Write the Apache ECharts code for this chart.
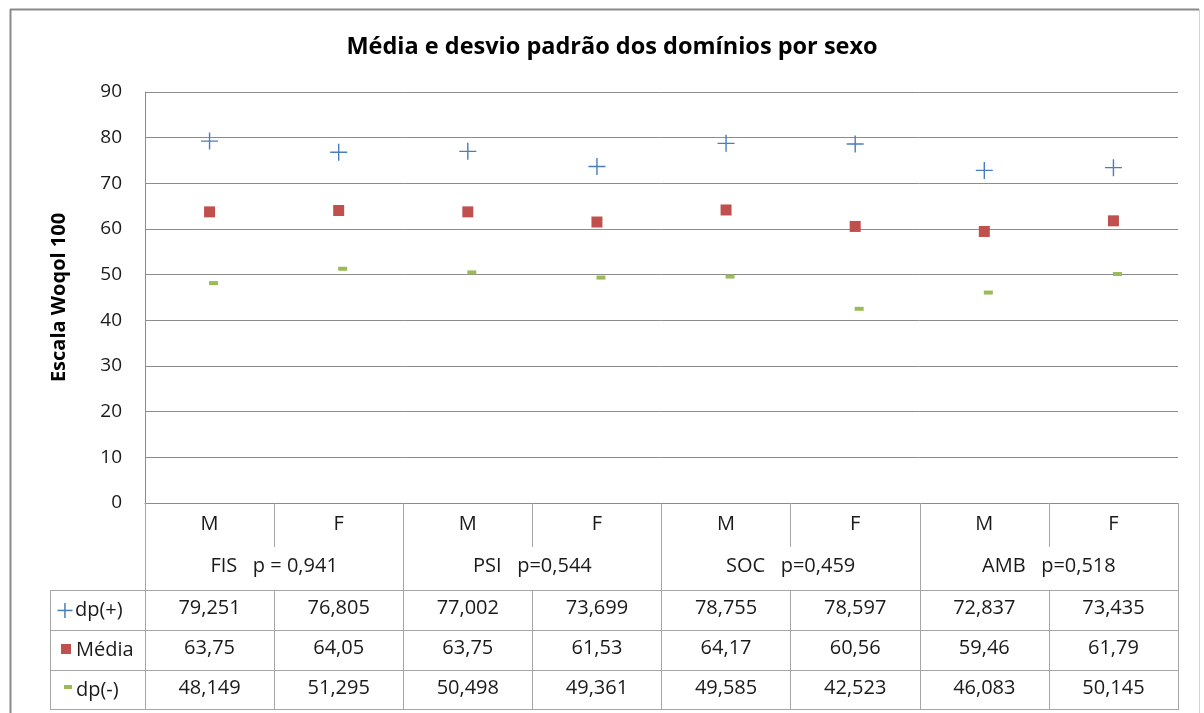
<!DOCTYPE html>
<html>
<head>
<meta charset="utf-8">
<script src="https://cdn.jsdelivr.net/npm/echarts@6/dist/echarts.min.js"></script>
<style>
  html, body { margin: 0; padding: 0; background: #ffffff; }
  #chart { width: 1204px; height: 713px; }
</style>
</head>
<body>
<div id="chart"></div>
<script>
// Sex within each domain
const categories = ['M', 'F', 'M', 'F', 'M', 'F', 'M', 'F'];
// Domain names with the p-value of the comparison
const groups = ['FIS   p = 0,941', 'PSI   p=0,544', 'SOC   p=0,459', 'AMB   p=0,518'];
// Mean + standard deviation
const dpPlus = [79.251, 76.805, 77.002, 73.699, 78.755, 78.597, 72.837, 73.435];
// Mean
const media = [63.75, 64.05, 63.75, 61.53, 64.17, 60.56, 59.46, 61.79];
// Mean - standard deviation
const dpMinus = [48.149, 51.295, 50.498, 49.361, 49.585, 42.523, 46.083, 50.145];
// Value axis range
const yMin = 0, yMax = 90, yStep = 10;

const FONT = '"Open Sans", Lato, sans-serif';
const GRID_LINE = '#8c8c8c';
const TABLE_LINE = '#a6a6a6';
const TEXT = '#1a1a1a';
const BLUE = '#4a7ebb', RED = '#c0504d', GREEN = '#9bbb59';
const PLUS = 'path://M8.25,0H9.75V8.25H18V9.75H9.75V18H8.25V9.75H0V8.25H8.25Z';

const fmt = v => String(v).replace('.', ',');

// One row of the data table under the plot, drawn as an offset category axis
function rowAxis(values, offset) {
  return {
    type: 'category', data: values.map(fmt), position: 'bottom', offset: offset,
    axisLine: { show: true, onZero: false, lineStyle: { color: TABLE_LINE, width: 1 } },
    axisTick: { show: true, length: 40, interval: 0, lineStyle: { color: TABLE_LINE } },
    axisLabel: { interval: 0, margin: 8, fontSize: 20, color: TEXT, fontFamily: FONT },
    splitLine: { show: false }
  };
}

const chart = echarts.init(document.getElementById('chart'), null, { renderer: 'canvas' });

const legendRows = [
  { y: 610, label: 'dp(+)' },
  { y: 650, label: 'Média' },
  { y: 690, label: 'dp(-)' }
];

chart.setOption({
  animation: false,
  backgroundColor: '#ffffff',
  title: {
    text: 'Média e desvio padrão dos domínios por sexo',
    left: 607, top: 30, textAlign: 'center',
    textStyle: { fontFamily: FONT, fontSize: 23.5, fontWeight: 'bold', color: '#000000' }
  },
  grid: { left: 145, right: 26, top: 92, bottom: 210, containLabel: false },
  xAxis: [
    {
      type: 'category', data: categories, position: 'bottom',
      axisLine: { show: true, onZero: false, lineStyle: { color: GRID_LINE } },
      axisTick: { show: true, length: 44, interval: 0, lineStyle: { color: TABLE_LINE } },
      axisLabel: { interval: 0, margin: 11, fontSize: 20, color: TEXT, fontFamily: FONT },
      splitLine: { show: false }
    },
    {
      type: 'category', data: groups, position: 'bottom', offset: 44,
      axisLine: { show: false, onZero: false },
      axisTick: { show: true, length: 43, interval: 0, lineStyle: { color: TABLE_LINE } },
      axisLabel: { interval: 0, margin: 9, fontSize: 20, color: TEXT, fontFamily: FONT },
      splitLine: { show: false }
    },
    rowAxis(dpPlus, 87),
    rowAxis(media, 127),
    rowAxis(dpMinus, 167),
    {
      type: 'category', data: categories, position: 'bottom', offset: 206,
      axisLine: { show: true, onZero: false, lineStyle: { color: TABLE_LINE } },
      axisTick: { show: false }, axisLabel: { show: false }, splitLine: { show: false }
    }
  ],
  yAxis: {
    type: 'value', min: yMin, max: yMax, interval: yStep,
    name: 'Escala Woqol 100', nameLocation: 'middle', nameGap: 76, nameRotate: 90,
    nameTextStyle: { fontFamily: FONT, fontSize: 20, fontWeight: 'bold', color: '#000000' },
    axisLine: { show: true, onZero: false, lineStyle: { color: GRID_LINE } },
    axisTick: { show: false },
    axisLabel: { margin: 23, fontSize: 19, color: TEXT, fontFamily: FONT },
    splitLine: { show: true, lineStyle: { color: GRID_LINE, width: 1 } }
  },
  series: [
    {
      name: 'dp(+)', type: 'scatter', xAxisIndex: 0, yAxisIndex: 0, data: dpPlus,
      symbol: PLUS, symbolSize: 17, itemStyle: { color: BLUE, opacity: 1 },
      emphasis: { disabled: true }
    },
    {
      name: 'Média', type: 'scatter', xAxisIndex: 0, yAxisIndex: 0, data: media,
      symbol: 'rect', symbolSize: 11, itemStyle: { color: RED, opacity: 1 },
      emphasis: { disabled: true }
    },
    {
      name: 'dp(-)', type: 'scatter', xAxisIndex: 0, yAxisIndex: 0, data: dpMinus,
      symbol: 'rect', symbolSize: [9, 4], symbolOffset: [4, 0], itemStyle: { color: GREEN, opacity: 1 },
      emphasis: { disabled: true }
    }
  ],
  graphic: [
    // chart frame
    { type: 'line', silent: true, shape: { x1: 10.5, y1: 9, x2: 10.5, y2: 713 }, style: { stroke: '#8a8a8a', lineWidth: 2 } },
    { type: 'line', silent: true, shape: { x1: 10, y1: 9.5, x2: 1199, y2: 9.5 }, style: { stroke: '#8a8a8a', lineWidth: 2 } },
    { type: 'line', silent: true, shape: { x1: 1199.5, y1: 9, x2: 1199.5, y2: 713 }, style: { stroke: '#d4d4d4', lineWidth: 1 } },
    // legend column of the data table
    { type: 'line', silent: true, shape: { x1: 50.5, y1: 590, x2: 50.5, y2: 710 }, style: { stroke: TABLE_LINE, lineWidth: 1 } },
    { type: 'line', silent: true, shape: { x1: 50, y1: 590.5, x2: 145, y2: 590.5 }, style: { stroke: TABLE_LINE, lineWidth: 1 } },
    { type: 'line', silent: true, shape: { x1: 50, y1: 630.5, x2: 145, y2: 630.5 }, style: { stroke: TABLE_LINE, lineWidth: 1 } },
    { type: 'line', silent: true, shape: { x1: 50, y1: 670.5, x2: 145, y2: 670.5 }, style: { stroke: TABLE_LINE, lineWidth: 1 } },
    { type: 'line', silent: true, shape: { x1: 50, y1: 709.5, x2: 145, y2: 709.5 }, style: { stroke: TABLE_LINE, lineWidth: 1 } },
    // legend keys
    { type: 'rect', silent: true, shape: { x: 64.2, y: 603, width: 1.5, height: 15 }, style: { fill: BLUE } },
    { type: 'rect', silent: true, shape: { x: 57.5, y: 609.7, width: 15, height: 1.5 }, style: { fill: BLUE } },
    { type: 'rect', silent: true, shape: { x: 61, y: 644, width: 10, height: 10 }, style: { fill: RED } },
    { type: 'rect', silent: true, shape: { x: 64, y: 685, width: 8, height: 4 }, style: { fill: GREEN } },
    ...legendRows.map((r, i) => ({
      type: 'text', silent: true, x: i === 0 ? 75 : 76, y: r.y,
      style: { text: r.label, fontFamily: FONT, fontSize: 20, fill: TEXT, verticalAlign: 'middle', align: 'left' }
    }))
  ]
});
</script>
</body>
</html>
